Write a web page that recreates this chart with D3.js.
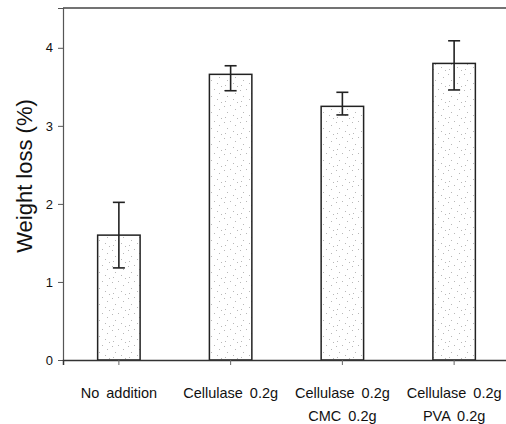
<!DOCTYPE html>
<html>
<head>
<meta charset="utf-8">
<script src="https://cdn.jsdelivr.net/npm/d3@7"></script>
<style>
  body { margin: 0; background: #fff; }
  svg { display: block; font-family: "Liberation Sans", Arial, sans-serif; }
</style>
</head>
<body>
<div id="chart"></div>
<script>
// values
var categories = ["No addition", "Cellulase 0.2g", "Cellulase 0.2g|CMC 0.2g", "Cellulase 0.2g|PVA 0.2g"];
var means = [1.60, 3.66, 3.25, 3.80];
var errHigh = [2.02, 3.77, 3.43, 4.09];
var errLow = [1.18, 3.45, 3.14, 3.46];
var yTicks = [0, 1, 2, 3, 4];

var data = categories.map((c, i) => ({
  cat: c, mean: means[i], hi: errHigh[i], lo: errLow[i]
}));

const width = 506, height = 424;
const margin = {top: 8, right: -4, bottom: 64, left: 63};
const plotW = width - margin.left - margin.right,
      plotH = height - margin.top - margin.bottom;

const svg = d3.select("#chart")
  .append("svg")
  .attr("width", width)
  .attr("height", height);

// sparse stipple fill like the scanned figure
var defs = svg.append("defs");
var pat = defs.append("pattern")
  .attr("id", "stipple")
  .attr("patternUnits", "userSpaceOnUse")
  .attr("width", 16).attr("height", 16);
pat.append("rect").attr("width", 16).attr("height", 16).attr("fill", "#fff");
[[1,2],[7,1],[12,5],[4,8],[10,11],[14,14],[2,13]].forEach(p => {
  pat.append("rect").attr("x", p[0]).attr("y", p[1])
    .attr("width", 1).attr("height", 1).attr("fill", "#b8b8b8");
});

const g = svg.append("g")
  .attr("transform", `translate(${margin.left}, ${margin.top})`);

const x = d3.scaleBand()
  .domain(categories)
  .range([0, plotW])
  .paddingInner(0.62)
  .paddingOuter(0.31);

const y = d3.scaleLinear()
  .domain([0, 4.51])
  .range([plotH, 0]);

// frame top line
g.append("line")
  .attr("x1", 0).attr("x2", plotW)
  .attr("y1", 0).attr("y2", 0)
  .attr("stroke", "#444").attr("stroke-width", 1.5);

// Y axis
const yAxis = g.append("g")
  .call(d3.axisLeft(y).tickValues(yTicks).tickSize(5).tickPadding(5).tickFormat(d3.format("d")));
yAxis.select(".domain").attr("stroke", "#555").attr("stroke-width", 1.2);
yAxis.selectAll(".tick line").attr("stroke", "#555");
yAxis.selectAll(".tick text")
  .attr("fill", "#111")
  .style("font-size", "13px");

// bars
g.append("g")
  .selectAll("rect")
  .data(data)
  .join("rect")
    .attr("x", d => x(d.cat))
    .attr("y", d => y(d.mean))
    .attr("width", x.bandwidth())
    .attr("height", d => y(0) - y(d.mean))
    .attr("fill", "url(#stipple)")
    .attr("stroke", "#222")
    .attr("stroke-width", 1.5);

// error bars
const eb = g.append("g").attr("stroke", "#222").attr("stroke-width", 1.6);
data.forEach(d => {
  var cx = x(d.cat) + x.bandwidth() / 2;
  eb.append("line").attr("x1", cx).attr("x2", cx).attr("y1", y(d.hi)).attr("y2", y(d.lo));
  eb.append("line").attr("x1", cx - 6).attr("x2", cx + 6).attr("y1", y(d.hi)).attr("y2", y(d.hi));
  eb.append("line").attr("x1", cx - 6).attr("x2", cx + 6).attr("y1", y(d.lo)).attr("y2", y(d.lo));
});

// X axis
const xAxis = g.append("g")
  .attr("transform", `translate(0, ${plotH})`)
  .call(d3.axisBottom(x).tickSize(5).tickFormat(""));
xAxis.select(".domain").attr("stroke", "#333").attr("stroke-width", 1.5);
xAxis.selectAll(".tick line").attr("stroke", "#666");

// multi-line category labels
xAxis.selectAll(".tick").each(function(d) {
  var lines = d.split("|");
  var t = d3.select(this).append("text")
    .attr("fill", "#111")
    .attr("text-anchor", "middle")
    .style("font-size", "14.5px")
    .style("word-spacing", "3px");
  lines.forEach((l, i) => {
    t.append("tspan").attr("x", 0).attr("y", 38 + i * 23).text(l);
  });
});

// y title
svg.append("text")
  .attr("transform", "translate(32, 176) rotate(-90)")
  .attr("text-anchor", "middle")
  .attr("fill", "#111")
  .style("font-size", "22px")
  .text("Weight loss (%)");
</script>
</body>
</html>
